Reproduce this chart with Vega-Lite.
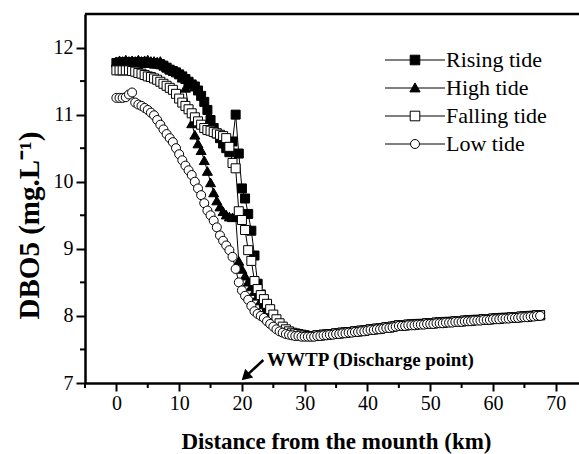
{
  "$schema": "https://vega.github.io/schema/vega-lite/v6.json",
  "width": 494,
  "height": 369,
  "autosize": "none",
  "padding": {"left": 85, "top": 14, "right": 0, "bottom": 71},
  "background": "white",
  "config": {
    "view": {"stroke": null},
    "font": "Liberation Serif",
    "axis": {"domainColor": "black", "domainWidth": 2.5, "tickColor": "black", "tickWidth": 2,
      "labelFont": "Liberation Serif", "labelFontSize": 20, "labelColor": "black",
      "titleFont": "Liberation Serif", "titleColor": "black", "titleFontWeight": "bold",
      "grid": false, "labelFlush": false, "labelOverlap": false},
    "legend": {"labelFont": "Liberation Serif", "labelFontSize": 22, "labelColor": "black"}
  },
  "data": {"values": [
    {"d":0,"R":11.77,"H":11.79,"F":11.66,"L":11.25},
    {"d":0.5,"R":11.78,"H":11.81,"F":11.66,"L":11.25},
    {"d":1,"R":11.77,"H":11.80,"F":11.66,"L":11.25},
    {"d":1.5,"R":11.78,"H":11.82,"F":11.66,"L":11.26},
    {"d":2,"R":11.77,"H":11.80,"F":11.66,"L":11.30},
    {"d":2.5,"R":11.78,"H":11.81,"F":11.65,"L":11.33},
    {"d":3,"R":11.77,"H":11.80,"F":11.64,"L":11.18},
    {"d":3.5,"R":11.78,"H":11.82,"F":11.62,"L":11.15},
    {"d":4,"R":11.77,"H":11.80,"F":11.61,"L":11.13},
    {"d":4.5,"R":11.78,"H":11.81,"F":11.59,"L":11.10},
    {"d":5,"R":11.77,"H":11.82,"F":11.57,"L":11.07},
    {"d":5.5,"R":11.77,"H":11.80,"F":11.56,"L":11.03},
    {"d":6,"R":11.76,"H":11.80,"F":11.54,"L":10.99},
    {"d":6.5,"R":11.76,"H":11.79,"F":11.52,"L":10.92},
    {"d":7,"R":11.75,"H":11.80,"F":11.49,"L":10.85},
    {"d":7.5,"R":11.73,"H":11.76,"F":11.46,"L":10.78},
    {"d":8,"R":11.70,"H":11.71,"F":11.43,"L":10.71},
    {"d":8.5,"R":11.67,"H":11.68,"F":11.40,"L":10.65},
    {"d":9,"R":11.65,"H":11.67,"F":11.37,"L":10.59},
    {"d":9.5,"R":11.63,"H":11.65,"F":11.31,"L":10.50},
    {"d":10,"R":11.60,"H":11.62,"F":11.24,"L":10.41},
    {"d":10.5,"R":11.57,"H":11.55,"F":11.18,"L":10.32},
    {"d":11,"R":11.53,"H":11.40,"F":11.13,"L":10.24},
    {"d":11.5,"R":11.49,"H":11.12,"F":11.08,"L":10.17},
    {"d":12,"R":11.45,"H":10.87,"F":11.02,"L":10.10},
    {"d":12.5,"R":11.42,"H":10.70,"F":10.96,"L":10.00},
    {"d":13,"R":11.36,"H":10.57,"F":10.90,"L":9.90},
    {"d":13.5,"R":11.28,"H":10.47,"F":10.85,"L":9.80},
    {"d":14,"R":11.19,"H":10.32,"F":10.80,"L":9.68},
    {"d":14.5,"R":11.07,"H":10.16,"F":10.77,"L":9.57},
    {"d":15,"R":10.92,"H":9.99,"F":10.76,"L":9.50},
    {"d":15.5,"R":10.80,"H":9.84,"F":10.74,"L":9.42},
    {"d":16,"R":10.72,"H":9.72,"F":10.72,"L":9.32},
    {"d":16.5,"R":10.65,"H":9.63,"F":10.70,"L":9.20},
    {"d":17,"R":10.57,"H":9.56,"F":10.68,"L":9.12},
    {"d":17.5,"R":10.50,"H":9.51,"F":10.65,"L":9.05},
    {"d":18,"R":10.44,"H":9.48,"F":10.52,"L":8.98},
    {"d":18.5,"R":10.60,"H":9.47,"F":10.28,"L":8.88},
    {"d":19,"R":11.00,"H":9.48,"F":10.20,"L":8.70},
    {"d":19.5,"R":10.42,"H":8.82,"F":9.56,"L":8.50},
    {"d":20,"R":9.90,"H":8.70,"F":9.43,"L":8.38},
    {"d":20.5,"R":9.75,"H":8.60,"F":9.28,"L":8.30},
    {"d":21,"R":9.52,"H":8.51,"F":8.98,"L":8.24},
    {"d":21.5,"R":9.27,"H":8.44,"F":8.82,"L":8.15},
    {"d":22,"R":8.90,"H":8.37,"F":8.52,"L":8.07},
    {"d":22.5,"R":8.48,"H":8.30,"F":8.40,"L":8.03},
    {"d":23,"R":8.32,"H":8.23,"F":8.31,"L":8.00},
    {"d":23.5,"R":8.20,"H":8.17,"F":8.25,"L":7.97},
    {"d":24,"R":8.10,"H":8.10,"F":8.18,"L":7.92},
    {"d":24.5,"R":8.02,"H":8.03,"F":8.10,"L":7.88},
    {"d":25,"R":7.95,"H":7.97,"F":8.02,"L":7.84},
    {"d":25.5,"R":7.89,"H":7.91,"F":7.95,"L":7.80},
    {"d":26,"R":7.84,"H":7.86,"F":7.89,"L":7.77},
    {"d":26.5,"R":7.80,"H":7.82,"F":7.84,"L":7.75},
    {"d":27,"R":7.77,"H":7.79,"F":7.80,"L":7.73},
    {"d":27.5,"R":7.75,"H":7.77,"F":7.77,"L":7.72},
    {"d":28,"R":7.74,"H":7.75,"F":7.75,"L":7.71},
    {"d":28.5,"R":7.73,"H":7.74,"F":7.74,"L":7.70},
    {"d":29,"R":7.72,"H":7.73,"F":7.73,"L":7.70},
    {"d":29.5,"R":7.71,"H":7.72,"F":7.72,"L":7.69},
    {"d":30,"R":7.71,"H":7.72,"F":7.71,"L":7.69},
    {"d":30.5,"R":7.70,"H":7.71,"F":7.70,"L":7.69},
    {"d":31,"R":7.70,"H":7.71,"F":7.70,"L":7.69},
    {"d":31.5,"R":7.70,"H":7.71,"F":7.70,"L":7.69},
    {"d":32,"R":7.71,"H":7.72,"F":7.71,"L":7.70},
    {"d":32.5,"R":7.71,"H":7.72,"F":7.71,"L":7.70},
    {"d":33,"R":7.72,"H":7.73,"F":7.72,"L":7.71},
    {"d":33.5,"R":7.72,"H":7.73,"F":7.72,"L":7.71},
    {"d":34,"R":7.73,"H":7.74,"F":7.73,"L":7.72},
    {"d":34.5,"R":7.73,"H":7.74,"F":7.73,"L":7.72},
    {"d":35,"R":7.74,"H":7.75,"F":7.74,"L":7.73},
    {"d":35.5,"R":7.74,"H":7.75,"F":7.74,"L":7.73},
    {"d":36,"R":7.75,"H":7.76,"F":7.75,"L":7.74},
    {"d":36.5,"R":7.75,"H":7.76,"F":7.75,"L":7.74},
    {"d":37,"R":7.76,"H":7.77,"F":7.76,"L":7.75},
    {"d":37.5,"R":7.76,"H":7.77,"F":7.76,"L":7.75},
    {"d":38,"R":7.77,"H":7.78,"F":7.77,"L":7.76},
    {"d":38.5,"R":7.77,"H":7.78,"F":7.77,"L":7.76},
    {"d":39,"R":7.78,"H":7.79,"F":7.78,"L":7.77},
    {"d":39.5,"R":7.78,"H":7.79,"F":7.78,"L":7.77},
    {"d":40,"R":7.79,"H":7.80,"F":7.79,"L":7.78},
    {"d":40.5,"R":7.80,"H":7.81,"F":7.80,"L":7.79},
    {"d":41,"R":7.80,"H":7.81,"F":7.80,"L":7.79},
    {"d":41.5,"R":7.81,"H":7.82,"F":7.81,"L":7.80},
    {"d":42,"R":7.81,"H":7.82,"F":7.81,"L":7.80},
    {"d":42.5,"R":7.82,"H":7.83,"F":7.82,"L":7.81},
    {"d":43,"R":7.83,"H":7.84,"F":7.83,"L":7.82},
    {"d":43.5,"R":7.83,"H":7.84,"F":7.83,"L":7.82},
    {"d":44,"R":7.84,"H":7.85,"F":7.84,"L":7.83},
    {"d":44.5,"R":7.85,"H":7.86,"F":7.85,"L":7.84},
    {"d":45,"R":7.86,"H":7.87,"F":7.86,"L":7.85},
    {"d":45.5,"R":7.86,"H":7.87,"F":7.86,"L":7.85},
    {"d":46,"R":7.86,"H":7.87,"F":7.86,"L":7.85},
    {"d":46.5,"R":7.87,"H":7.88,"F":7.87,"L":7.86},
    {"d":47,"R":7.87,"H":7.88,"F":7.87,"L":7.86},
    {"d":47.5,"R":7.87,"H":7.88,"F":7.87,"L":7.86},
    {"d":48,"R":7.88,"H":7.89,"F":7.88,"L":7.87},
    {"d":48.5,"R":7.88,"H":7.89,"F":7.88,"L":7.87},
    {"d":49,"R":7.88,"H":7.89,"F":7.88,"L":7.87},
    {"d":49.5,"R":7.89,"H":7.90,"F":7.89,"L":7.88},
    {"d":50,"R":7.89,"H":7.90,"F":7.89,"L":7.88},
    {"d":50.5,"R":7.89,"H":7.90,"F":7.89,"L":7.88},
    {"d":51,"R":7.90,"H":7.91,"F":7.90,"L":7.89},
    {"d":51.5,"R":7.90,"H":7.91,"F":7.90,"L":7.89},
    {"d":52,"R":7.90,"H":7.91,"F":7.90,"L":7.89},
    {"d":52.5,"R":7.91,"H":7.92,"F":7.91,"L":7.90},
    {"d":53,"R":7.91,"H":7.92,"F":7.91,"L":7.90},
    {"d":53.5,"R":7.91,"H":7.92,"F":7.91,"L":7.90},
    {"d":54,"R":7.92,"H":7.93,"F":7.92,"L":7.91},
    {"d":54.5,"R":7.92,"H":7.93,"F":7.92,"L":7.91},
    {"d":55,"R":7.92,"H":7.93,"F":7.92,"L":7.91},
    {"d":55.5,"R":7.93,"H":7.94,"F":7.93,"L":7.92},
    {"d":56,"R":7.93,"H":7.94,"F":7.93,"L":7.92},
    {"d":56.5,"R":7.93,"H":7.94,"F":7.93,"L":7.92},
    {"d":57,"R":7.94,"H":7.95,"F":7.94,"L":7.93},
    {"d":57.5,"R":7.94,"H":7.95,"F":7.94,"L":7.93},
    {"d":58,"R":7.94,"H":7.95,"F":7.94,"L":7.93},
    {"d":58.5,"R":7.95,"H":7.96,"F":7.95,"L":7.94},
    {"d":59,"R":7.95,"H":7.96,"F":7.95,"L":7.94},
    {"d":59.5,"R":7.95,"H":7.96,"F":7.95,"L":7.94},
    {"d":60,"R":7.96,"H":7.97,"F":7.96,"L":7.95},
    {"d":60.5,"R":7.96,"H":7.97,"F":7.96,"L":7.95},
    {"d":61,"R":7.96,"H":7.97,"F":7.96,"L":7.95},
    {"d":61.5,"R":7.97,"H":7.98,"F":7.97,"L":7.96},
    {"d":62,"R":7.97,"H":7.98,"F":7.97,"L":7.96},
    {"d":62.5,"R":7.97,"H":7.98,"F":7.97,"L":7.96},
    {"d":63,"R":7.98,"H":7.99,"F":7.98,"L":7.97},
    {"d":63.5,"R":7.98,"H":7.99,"F":7.98,"L":7.97},
    {"d":64,"R":7.98,"H":7.99,"F":7.98,"L":7.97},
    {"d":64.5,"R":7.99,"H":8.00,"F":7.99,"L":7.98},
    {"d":65,"R":7.99,"H":8.00,"F":7.99,"L":7.98},
    {"d":65.5,"R":7.99,"H":8.00,"F":7.99,"L":7.98},
    {"d":66,"R":8.00,"H":8.01,"F":8.00,"L":7.99},
    {"d":66.5,"R":8.00,"H":8.01,"F":8.00,"L":7.99},
    {"d":67,"R":8.01,"H":8.02,"F":8.01,"L":8.00},
    {"d":67.5,"R":8.01,"H":8.02,"F":8.01,"L":8.00}
  ]},
  "layer": [
    {
      "mark": {"type": "line", "color": "black", "strokeWidth": 1},
      "encoding": {
        "x": {"field": "d", "type": "quantitative", "scale": {"domain": [-5, 73.7], "nice": false, "zero": false},
          "axis": {
            "values": [0,10,20,30,40,50,60,70],
            "format": "d",
            "tickSize": 8,
            "labelPadding": 2, "labelOverlap": false,
            "title": "Distance from the mounth (km)",
            "titleFontSize": 23,
            "titleX": 251, "titleY": 65, "titleAlign": "center", "titleBaseline": "alphabetic"
          }},
        "y": {"field": "R", "type": "quantitative", "scale": {"domain": [7, 12.5], "nice": false, "zero": false},
          "axis": {
            "values": [7,8,9,10,11,12],
            "format": "d",
            "tickSize": 9,
            "labelPadding": 3, "labelOverlap": false,
            "title": "DBO5 (mg.L⁻¹)",
            "titleFontSize": 29,
            "titleX": -47, "titleY": 211, "titleAngle": 270, "titleAlign": "center", "titleBaseline": "alphabetic"
          }}
      }
    },
    {
      "mark": {"type": "point", "shape": "square", "filled": true, "fill": "black", "stroke": "black", "strokeWidth": 1, "size": 81, "opacity": 1},
      "encoding": {
        "x": {"field": "d", "type": "quantitative"},
        "y": {"field": "R", "type": "quantitative"}
      }
    },
    {
      "mark": {"type": "line", "color": "black", "strokeWidth": 1},
      "encoding": {
        "x": {"field": "d", "type": "quantitative"},
        "y": {"field": "H", "type": "quantitative"}
      }
    },
    {
      "mark": {"type": "point", "shape": "triangle-up", "filled": true, "fill": "black", "stroke": "black", "strokeWidth": 1, "size": 100, "opacity": 1},
      "encoding": {
        "x": {"field": "d", "type": "quantitative"},
        "y": {"field": "H", "type": "quantitative"}
      }
    },
    {
      "mark": {"type": "line", "color": "black", "strokeWidth": 1},
      "encoding": {
        "x": {"field": "d", "type": "quantitative"},
        "y": {"field": "F", "type": "quantitative"}
      }
    },
    {
      "mark": {"type": "point", "shape": "square", "filled": true, "fill": "white", "stroke": "black", "strokeWidth": 1, "size": 81, "opacity": 1},
      "encoding": {
        "x": {"field": "d", "type": "quantitative"},
        "y": {"field": "F", "type": "quantitative"}
      }
    },
    {
      "mark": {"type": "line", "color": "black", "strokeWidth": 1},
      "encoding": {
        "x": {"field": "d", "type": "quantitative"},
        "y": {"field": "L", "type": "quantitative"}
      }
    },
    {
      "mark": {"type": "point", "shape": "circle", "filled": true, "fill": "white", "stroke": "black", "strokeWidth": 1, "size": 81, "opacity": 1},
      "encoding": {
        "x": {"field": "d", "type": "quantitative"},
        "y": {"field": "L", "type": "quantitative"}
      }
    },
    {
      "data": {"values": []},
      "mark": {"type": "point", "filled": true, "strokeWidth": 1, "opacity": 1},
      "encoding": {
        "x": {"field": "d", "type": "quantitative"},
        "y": {"field": "R", "type": "quantitative"},
        "shape": {"field": "s", "type": "nominal",
          "scale": {"domain": ["Rising tide", "High tide", "Falling tide", "Low tide"],
            "range": ["M-5,0H5M-0.8,-0.8H0.8V0.8H-0.8Z", "M-5,0H5M0,-0.85L0.85,0.65H-0.85Z", "M-5,0H-0.8M0.8,0H5M-0.8,-0.8H0.8V0.8H-0.8Z", "M-5,0H-0.75M0.75,0H5M0.75,0A0.75,0.75 0 1,1 -0.75,0A0.75,0.75 0 1,1 0.75,0Z"]},
          "legend": {
            "title": null, "orient": "none", "legendX": 319, "legendY": 35, "padding": 0,
            "labelFont": "Liberation Serif", "labelFontSize": 22, "labelColor": "black", "labelOffset": 20,
            "rowPadding": 6, "symbolSize": 144, "symbolStrokeWidth": 1, "symbolOpacity": 1
          }},
        "fill": {"field": "s", "type": "nominal",
          "scale": {"domain": ["Rising tide", "High tide", "Falling tide", "Low tide"], "range": ["black", "black", "white", "white"]}},
        "stroke": {"field": "s", "type": "nominal",
          "scale": {"domain": ["Rising tide", "High tide", "Falling tide", "Low tide"], "range": ["black", "black", "black", "black"]}}
      }
    },
    {
      "data": {"values": [{"m": -5}, {"m": 5}, {"m": 15}, {"m": 25}, {"m": 35}, {"m": 45}, {"m": 55}, {"m": 65}]},
      "mark": {"type": "rule", "color": "black", "strokeWidth": 2, "y2Offset": 5},
      "encoding": {
        "x": {"field": "m", "type": "quantitative"},
        "y": {"datum": 7, "type": "quantitative"},
        "y2": {"datum": 7}
      }
    },
    {
      "data": {"values": [{"n": 7.5}, {"n": 8.5}, {"n": 9.5}, {"n": 10.5}, {"n": 11.5}]},
      "mark": {"type": "rule", "color": "black", "strokeWidth": 2, "x2Offset": -5},
      "encoding": {
        "y": {"field": "n", "type": "quantitative"},
        "x": {"datum": -5, "type": "quantitative"},
        "x2": {"datum": -5}
      }
    },
    {
      "data": {"values": [{"v": 12.5}]},
      "mark": {"type": "rule", "color": "black", "strokeWidth": 2.5},
      "encoding": {
        "y": {"field": "v", "type": "quantitative"}
      }
    },
    {
      "data": {"values": [{"km": 23.41, "v": 7.343, "km2": 20.56, "v2": 7.094}]},
      "mark": {"type": "rule", "color": "black", "strokeWidth": 2.5},
      "encoding": {
        "x": {"field": "km", "type": "quantitative"},
        "y": {"field": "v", "type": "quantitative"},
        "x2": {"field": "km2"},
        "y2": {"field": "v2"}
      }
    },
    {
      "data": {"values": [{"km": 20.56, "v": 7.094}]},
      "mark": {"type": "point", "shape": "triangle-up", "filled": true, "color": "black", "size": 140, "angle": 227, "opacity": 1},
      "encoding": {
        "x": {"field": "km", "type": "quantitative"},
        "y": {"field": "v", "type": "quantitative"}
      }
    },
    {
      "data": {"values": [{"km": 24.0, "v": 7.246, "t": "WWTP (Discharge point)"}]},
      "mark": {"type": "text", "align": "left", "baseline": "alphabetic", "font": "Liberation Serif", "fontSize": 19, "fontWeight": "bold", "color": "black"},
      "encoding": {
        "x": {"field": "km", "type": "quantitative"},
        "y": {"field": "v", "type": "quantitative"},
        "text": {"field": "t"}
      }
    }
  ]
}
